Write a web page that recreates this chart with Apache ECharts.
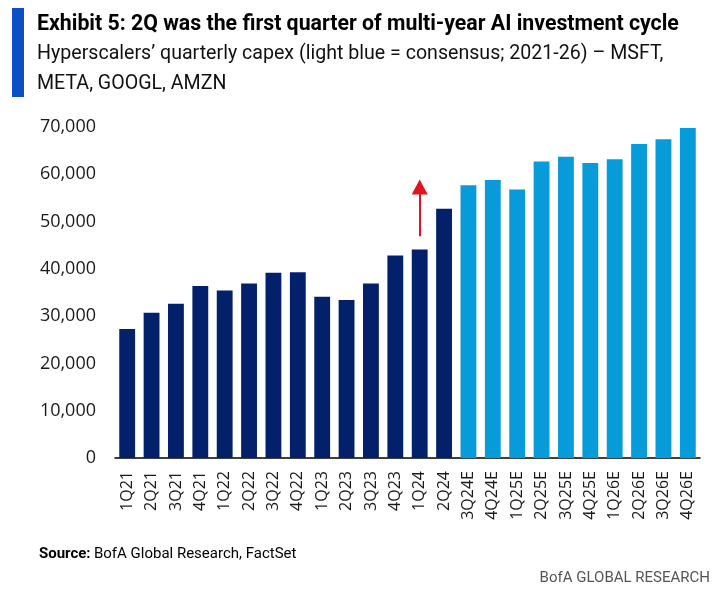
<!DOCTYPE html>
<html><head><meta charset="utf-8">
<script src="https://cdn.jsdelivr.net/npm/echarts@6/dist/echarts.min.js"></script>
<style>html,body{margin:0;padding:0;background:#fff}#c{width:720px;height:600px}</style>
</head><body><div id="c"></div>
<script>
var categories = ['1Q21','2Q21','3Q21','4Q21','1Q22','2Q22','3Q22','4Q22','1Q23','2Q23','3Q23','4Q23','1Q24','2Q24','3Q24E','4Q24E','1Q25E','2Q25E','3Q25E','4Q25E','1Q26E','2Q26E','3Q26E','4Q26E'];
var actual = [27300,30700,32600,36400,35400,36900,39200,39300,34100,33400,36900,42800,44100,52700,null,null,null,null,null,null,null,null,null,null];
var consensus = [null,null,null,null,null,null,null,null,null,null,null,null,null,null,57700,58800,56800,62700,63700,62400,63200,66400,67400,69800];
var arrowFrom = ['1Q24', 46900];
var arrowTo = ['1Q24', 57300];
var yTicks = [0,10000,20000,30000,40000,50000,60000,70000];

var chart = echarts.init(document.getElementById('c'));
var font = '"Open Sans", "Noto Sans", sans-serif';
var tf = '"Roboto", sans-serif';
chart.setOption({
  animation: false,
  grid: {left: 115, right: 20, top: 127, bottom: 142, containLabel: false},
  graphic: [
    {type: 'rect', shape: {x: 12, y: 8, width: 12, height: 89}, style: {fill: '#0B4FC4'}},
    {type: 'text', left: 37, top: 14, style: {text: 'Exhibit 5: 2Q was the first quarter of multi-year AI investment cycle', font: 'bold 21.3px ' + tf, fill: '#000'}},
    {type: 'text', left: 37, top: 39, style: {text: 'Hyperscalers\u2019 quarterly capex (light blue = consensus; 2021-26) \u2013 MSFT,\nMETA, GOOGL, AMZN', font: '19.6px ' + tf, lineHeight: 30, fill: '#111'}},
    {type: 'text', left: 39, top: 547, style: {rich: {b: {fontWeight: 'bold', fontSize: 15, fontFamily: tf, fill: '#000'}, r: {fontSize: 15, fontFamily: tf, fill: '#000'}}, text: '{b|Source:} {r|BofA Global Research, FactSet}'}},
    {type: 'text', right: 10, top: 571, style: {text: 'BofA GLOBAL RESEARCH', font: '15px ' + tf, fill: '#555'}}
  ],
  xAxis: {
    type: 'category', data: categories, boundaryGap: true,
    axisLine: {show: true, lineStyle: {color: '#000', width: 1.5}},
    axisTick: {show: false},
    axisLabel: {rotate: 90, interval: 0, fontSize: 16, fontFamily: font, color: '#1a1a1a', margin: 13}
  },
  yAxis: {
    type: 'value', min: 0, max: 70000, interval: 10000,
    splitLine: {show: false}, axisLine: {show: false}, axisTick: {show: false},
    axisLabel: {fontSize: 18, fontFamily: font, color: '#1a1a1a', margin: 19,
      formatter: function (v) { return yTicks.indexOf(v) >= 0 ? v.toLocaleString('en-US') : ''; }}
  },
  series: [
    {type: 'bar', data: actual, stack: 'a', barCategoryGap: '35%', itemStyle: {color: '#03216A'},
     markLine: {silent: true, symbol: ['none', 'triangle'], symbolSize: [16, 15], label: {show: false},
       lineStyle: {color: '#E0141E', width: 2, type: 'solid'},
       data: [[{coord: arrowFrom}, {coord: arrowTo}]]}},
    {type: 'bar', data: consensus, stack: 'a', barCategoryGap: '35%', itemStyle: {color: '#079BD9'}}
  ]
});
</script></body></html>
